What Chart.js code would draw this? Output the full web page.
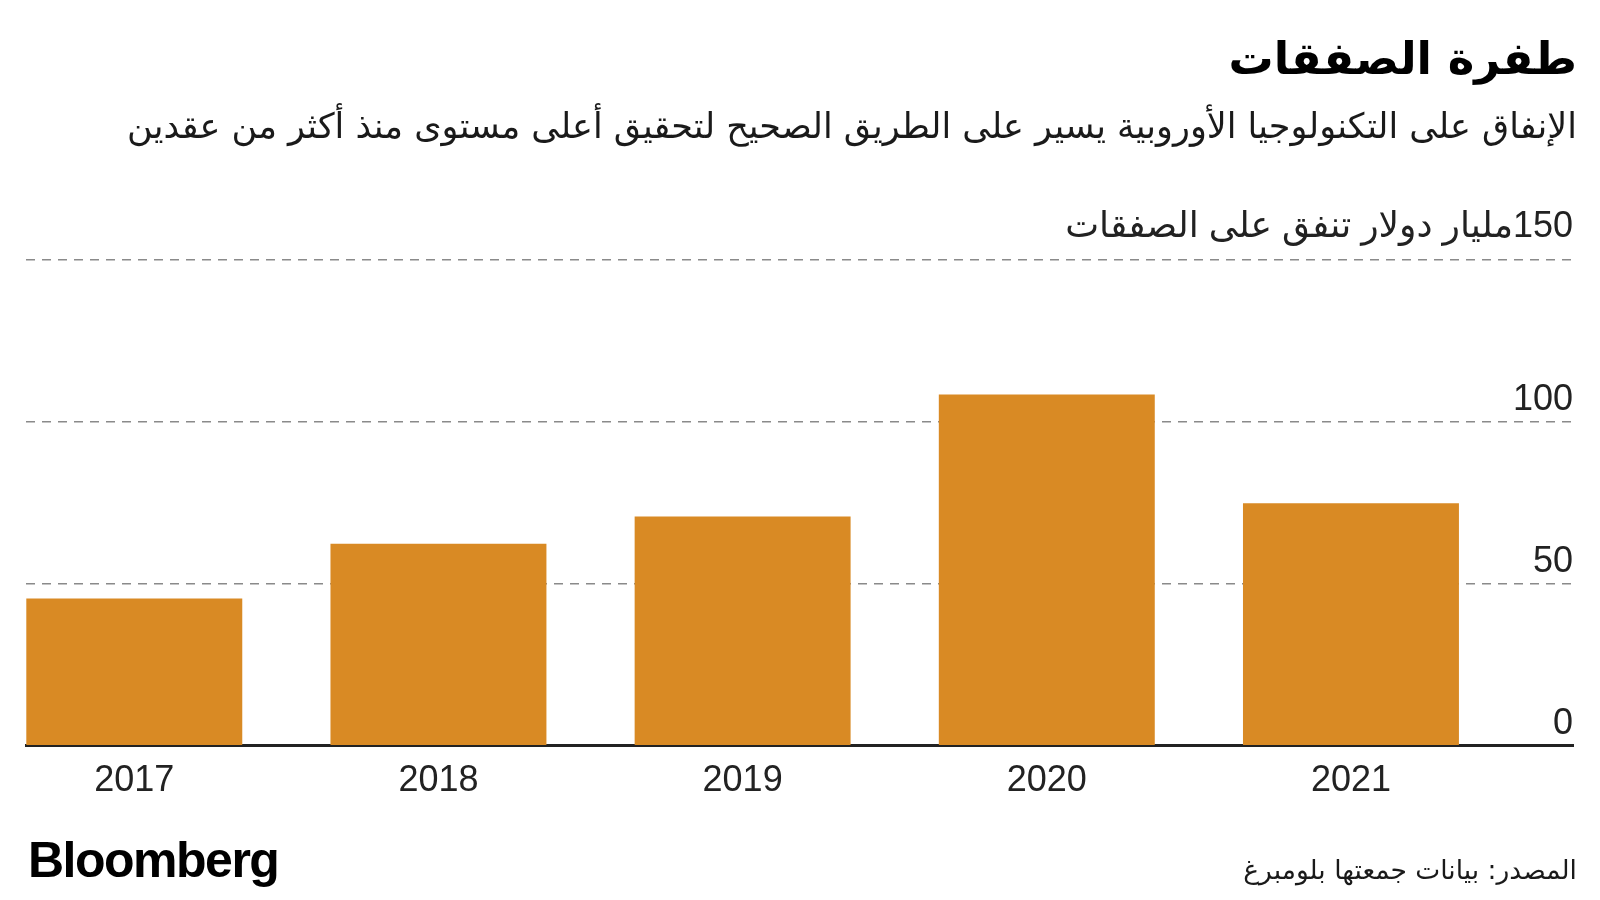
<!DOCTYPE html>
<html lang="ar">
<head>
<meta charset="utf-8">
<title>طفرة الصفقات</title>
<script src="https://cdn.jsdelivr.net/npm/chart.js@4.4.0/dist/chart.umd.min.js"></script>
<style>
  html, body { margin: 0; padding: 0; background: #fff; }
  #wrap { position: relative; width: 1600px; height: 900px; overflow: hidden; }
  #chart { position: absolute; left: 0; top: 0; }
  .txt { position: absolute; direction: rtl; color: #1a1a1a; white-space: nowrap;
         font-family: 'DejaVu Sans', sans-serif; }
  #title { right: 23px; top: 29px; font-size: 45px; font-weight: bold; line-height: 60px; color: #000; }
  #subtitle { right: 23px; top: 104px; font-size: 35px; line-height: 44px; }
  #source { right: 23px; top: 851px; font-size: 26.5px; line-height: 38px; }
  #logo { position: absolute; left: 28px; top: 832px; font-family: 'Liberation Sans', Arial, sans-serif;
          font-weight: bold; font-size: 50px; letter-spacing: -1.5px; color: #000; line-height: 56px; }
</style>
</head>
<body>
<div id="wrap">
  <canvas id="chart" width="1600" height="900" dir="rtl"></canvas>
  <div id="title" class="txt">طفرة الصفقات</div>
  <div id="subtitle" class="txt">الإنفاق على التكنولوجيا الأوروبية يسير على الطريق الصحيح لتحقيق أعلى مستوى منذ أكثر من عقدين</div>
  <div id="source" class="txt">المصدر: بيانات جمعتها بلومبرغ</div>
  <div id="logo">Bloomberg</div>
</div>
<script>
// years and deal spending (billion dollars)
const years = [2017, 2018, 2019, 2020, 2021];
const spending = [45.5, 62.4, 70.8, 108.5, 74.9];
const yTicks = [0, 50, 100, 150];
const unitLabel = 'مليار دولار تنفق على الصفقات';

const fontFamily = "'Liberation Sans', 'DejaVu Sans', sans-serif";
const tickFont = { family: fontFamily, size: 36 };

const ctx = document.getElementById('chart').getContext('2d');
const chart = new Chart(ctx, {
    type: 'bar',
    data: {
        datasets: [{
            data: years.map((y, i) => ({ x: y, y: spending[i] })),
            backgroundColor: '#d98a24',
            borderWidth: 0,
            categoryPercentage: 1,
            barPercentage: 0.71
        }]
    },
    options: {
        responsive: false,
        animation: false,
        layout: { padding: { left: 26, right: 27, top: 260, bottom: 83 } },
        plugins: {
            legend: { display: false },
            tooltip: { enabled: false }
        },
        scales: {
            x: {
                type: 'linear',
                offset: false,
                min: 2016.644,
                max: 2021.73,
                grid: { display: false, drawTicks: false, offset: false },
                border: { display: true, color: '#222', width: 3 },
                afterBuildTicks: function (scale) {
                    scale.ticks = years.map(v => ({ value: v }));
                },
                ticks: {
                    color: '#222',
                    font: tickFont,
                    padding: 14,
                    maxRotation: 0,
                    callback: v => String(v)
                }
            },
            y: {
                position: 'right',
                min: 0,
                max: 150,
                afterBuildTicks: function (scale) {
                    scale.ticks = yTicks.map(v => ({ value: v }));
                },
                grid: { color: '#8a8a8a', lineWidth: 1.5, drawTicks: false },
                border: { display: false, dash: [9, 7] },
                ticks: {
                    mirror: true,
                    padding: 0,
                    labelOffset: -22,
                    color: '#222',
                    // top label carries the unit and sits a little higher
                    font: c => c.tick && c.tick.value === 150
                        ? { family: fontFamily, size: 36, lineHeight: 0.6 }
                        : tickFont,
                    callback: v => v === 150 ? [v + unitLabel, ''] : String(v)
                }
            }
        }
    }
});
</script>
</body>
</html>
